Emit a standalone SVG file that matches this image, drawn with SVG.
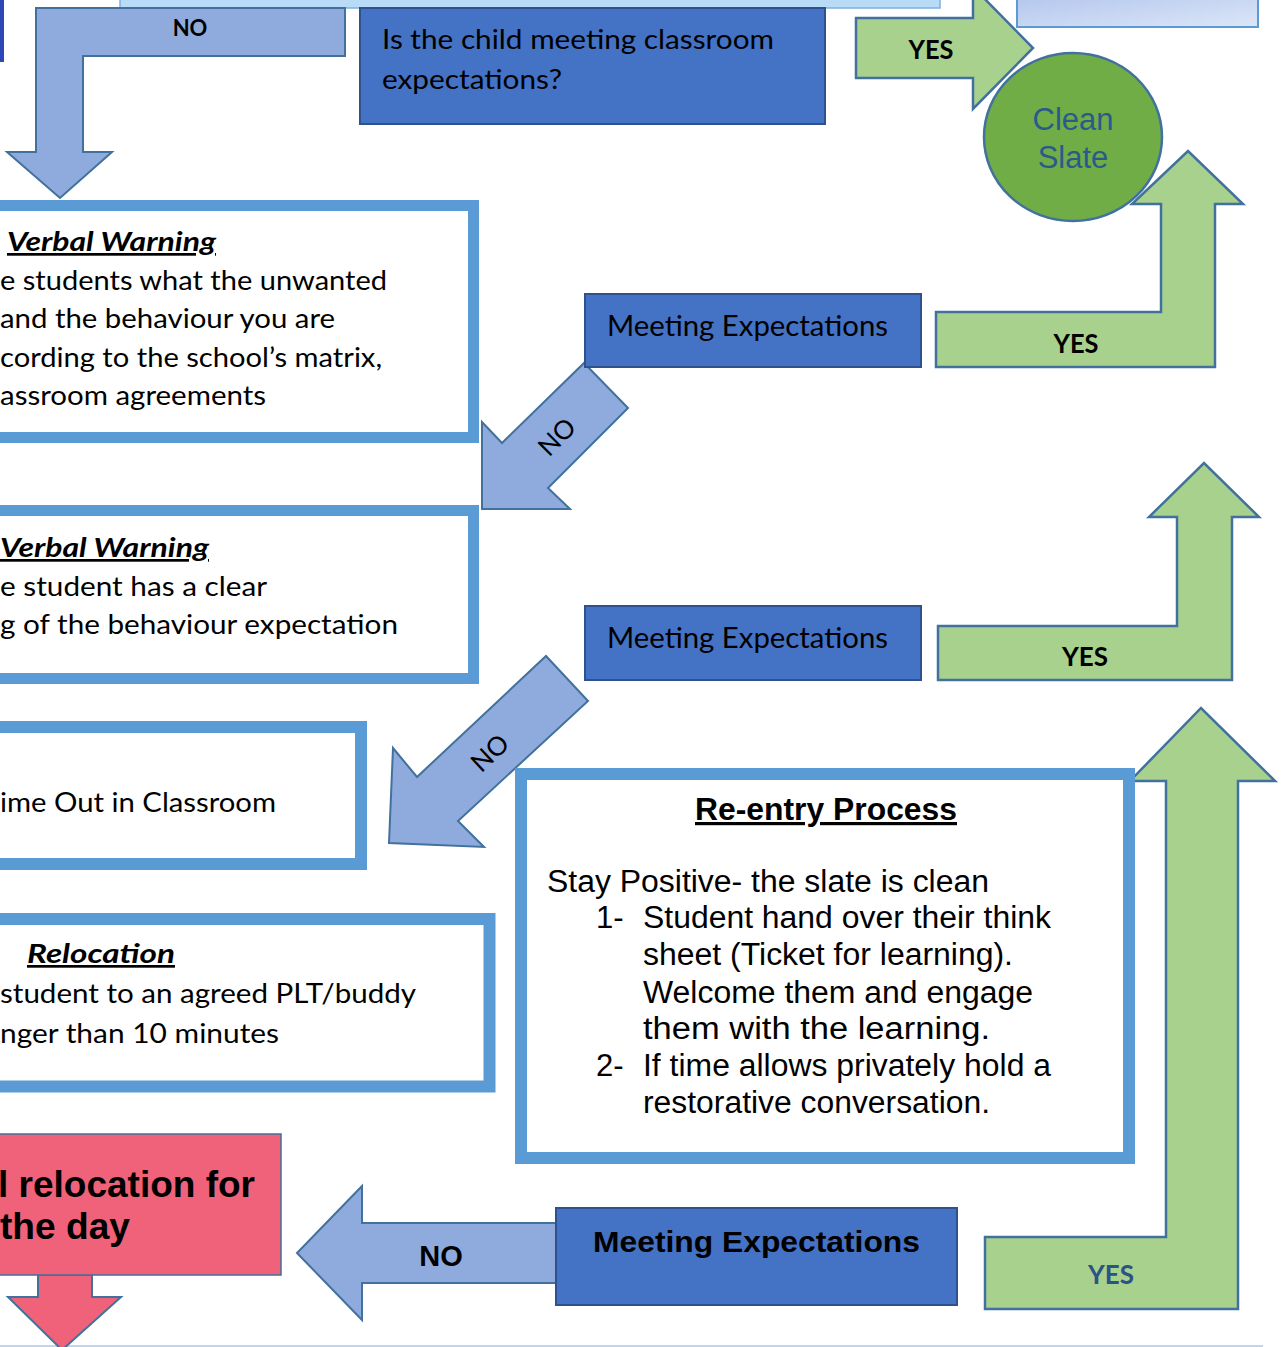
<svg xmlns="http://www.w3.org/2000/svg" width="1282" height="1347" viewBox="0 0 1282 1347">
<defs>
<linearGradient id="gTR" x1="0" y1="0" x2="1" y2="1">
<stop offset="0" stop-color="#b3c6ee"/>
<stop offset="1" stop-color="#dce6f7"/>
</linearGradient>
</defs>
<style>
.frame{fill:#ffffff;stroke:#5b9bd5}
.dark{fill:#4472c4;stroke:#2f528f;stroke-width:2}
.noA{fill:#8faadc;stroke:#41719c;stroke-width:2;stroke-linejoin:miter}
.yesA{fill:#a9d18e;stroke:#41719c;stroke-width:2.5;stroke-linejoin:miter}
.cal{font-family:Lato,"Open Sans","DejaVu Sans",sans-serif;fill:#000}
.ar{font-family:"Liberation Sans",Arial,sans-serif;fill:#000}
.b{font-weight:bold}
.bi{font-weight:bold;font-style:italic;text-decoration:underline}
</style>
<rect x="0" y="0" width="1282" height="1347" fill="#ffffff"/>
<line x1="0" y1="1346" x2="1263" y2="1346" stroke="#bdd7ee" stroke-width="2"/>

<g id="top-strip">
<rect x="0" y="-4" width="4" height="66" fill="#2b47b8"/>
<rect x="120" y="-4" width="820" height="12" fill="#b8dcf8" stroke="#7fb0de" stroke-width="1.5"/>
</g>
<g id="top-right-box">
<rect x="1017" y="-4" width="241" height="31" fill="url(#gTR)" stroke="#5b9bd5" stroke-width="2"/>
</g>

<g id="connectors">
<path id="no-top" class="noA" d="M36,8 L345,8 L345,56 L83,56 L83,152 L112,152 L60,198 L7,152 L36,152 Z"/>
<text class="cal b" x="190" y="36" font-size="22" text-anchor="middle">NO</text>

<path id="yes-top" class="yesA" stroke="#2f528f" d="M856,18 L973,18 L973,-13 L1033,48 L973,109 L973,78 L856,78 Z"/>
<text class="cal b" x="931" y="59" font-size="27" text-anchor="middle" textLength="45" lengthAdjust="spacingAndGlyphs">YES</text>

<path id="no-diag-1" class="noA" d="M584,363 L628,408 L548,488 L570,509 L482,509 L482,422 L502,443 Z"/>
<text class="cal" x="557" y="446" font-size="26" text-anchor="middle" transform="rotate(-45 557 437)">NO</text>

<path id="yes-bent-1" class="yesA" d="M936,312 L1161,312 L1161,204 L1132,204 L1188,151 L1243,204 L1215,204 L1215,367 L936,367 Z"/>
<text class="cal b" x="1076" y="353" font-size="27" text-anchor="middle" textLength="45" lengthAdjust="spacingAndGlyphs">YES</text>

<path id="no-diag-2" class="noA" d="M546,656 L588,701 L458,821 L484,847 L389,843 L393,748 L417,777 Z"/>
<text class="cal" x="490" y="762" font-size="26" text-anchor="middle" transform="rotate(-43 490 753)">NO</text>

<path id="yes-bent-2" class="yesA" d="M938,626 L1177,626 L1177,517 L1149,517 L1204,463 L1259,517 L1232,517 L1232,680 L938,680 Z"/>
<text class="cal b" x="1085" y="666" font-size="27" text-anchor="middle" textLength="46" lengthAdjust="spacingAndGlyphs">YES</text>

<path id="yes-big" class="yesA" d="M985,1237 L1166,1237 L1166,781 L1130,781 L1201,708 L1275,781 L1238,781 L1238,1309 L985,1309 Z"/>
<text class="cal b" x="1111" y="1284" font-size="27" text-anchor="middle" style="fill:#2a5386" textLength="46" lengthAdjust="spacingAndGlyphs">YES</text>

<path id="no-left" class="noA" d="M556,1223 L362,1223 L362,1186 L297,1253 L362,1320 L362,1283 L556,1283 Z"/>
<text class="ar b" x="441" y="1266" font-size="29" text-anchor="middle">NO</text>

<path id="red-down" fill="#f06279" stroke="#41719c" stroke-width="2" d="M38,1275 L92,1275 L92,1297 L121,1297 L62,1350 L8,1297 L38,1297 Z"/>
</g>

<g id="question">
<rect class="dark" x="360" y="8" width="465" height="116"/>
<text class="cal" x="382" y="49" font-size="27" textLength="392" lengthAdjust="spacingAndGlyphs">Is the child meeting classroom</text>
<text class="cal" x="382" y="89" font-size="27" textLength="180" lengthAdjust="spacingAndGlyphs">expectations?</text>
</g>

<g id="clean-slate">
<ellipse cx="1073" cy="137" rx="89" ry="84" fill="#70ad47" stroke="#41719c" stroke-width="2.5"/>
<text class="ar" x="1073" y="130" font-size="31" text-anchor="middle" style="fill:#2b5a8a">Clean</text>
<text class="ar" x="1073" y="168" font-size="31" text-anchor="middle" style="fill:#2b5a8a">Slate</text>
</g>

<g id="verbal-warning-1">
<rect class="frame" x="-20" y="205.5" width="493.5" height="232" stroke-width="11"/>
<text class="cal bi" x="7" y="251" font-size="27" textLength="209" lengthAdjust="spacingAndGlyphs">Verbal Warning</text>
<text class="cal" x="0" y="290" font-size="27" textLength="387" lengthAdjust="spacingAndGlyphs">e students what the unwanted</text>
<text class="cal" x="0" y="328" font-size="27" textLength="335" lengthAdjust="spacingAndGlyphs">and the behaviour you are</text>
<text class="cal" x="0" y="367" font-size="27" textLength="382" lengthAdjust="spacingAndGlyphs">cording to the school’s matrix,</text>
<text class="cal" x="0" y="405" font-size="27" textLength="266" lengthAdjust="spacingAndGlyphs">assroom agreements</text>
</g>

<g id="meeting-1">
<rect class="dark" x="585" y="294" width="336" height="73"/>
<text class="cal" x="607" y="336" font-size="28" textLength="281" lengthAdjust="spacingAndGlyphs">Meeting Expectations</text>
</g>

<g id="verbal-warning-2">
<rect class="frame" x="-20" y="510.5" width="493.5" height="168" stroke-width="11"/>
<text class="cal bi" x="0" y="557" font-size="27" textLength="209" lengthAdjust="spacingAndGlyphs">Verbal Warning</text>
<text class="cal" x="0" y="596" font-size="27" textLength="267" lengthAdjust="spacingAndGlyphs">e student has a clear</text>
<text class="cal" x="0" y="634" font-size="27" textLength="398" lengthAdjust="spacingAndGlyphs">g of the behaviour expectation</text>
</g>

<g id="meeting-2">
<rect class="dark" x="585" y="606" width="336" height="74"/>
<text class="cal" x="607" y="648" font-size="28" textLength="281" lengthAdjust="spacingAndGlyphs">Meeting Expectations</text>
</g>

<g id="time-out">
<rect class="frame" x="-20" y="727" width="381" height="137" stroke-width="12"/>
<text class="cal" x="0" y="812" font-size="27" textLength="276" lengthAdjust="spacingAndGlyphs">ime Out in Classroom</text>
</g>

<g id="relocation">
<rect class="frame" x="-20" y="919" width="509.5" height="167.5" stroke-width="12"/>
<text class="cal bi" x="27" y="963" font-size="27" textLength="148" lengthAdjust="spacingAndGlyphs"> Relocation</text>
<text class="cal" x="0" y="1003" font-size="27" textLength="416" lengthAdjust="spacingAndGlyphs">student to an agreed PLT/buddy</text>
<text class="cal" x="0" y="1043" font-size="27" textLength="279" lengthAdjust="spacingAndGlyphs">nger than 10 minutes</text>
</g>

<g id="re-entry">
<rect class="frame" x="521" y="774" width="608" height="384" stroke-width="12"/>
<text class="ar b" x="695" y="820" font-size="32" textLength="262" lengthAdjust="spacingAndGlyphs" style="text-decoration:underline">Re-entry Process</text>
<text class="ar" x="547" y="892" font-size="31" textLength="442" lengthAdjust="spacingAndGlyphs">Stay Positive- the slate is clean</text>
<text class="ar" x="596" y="928" font-size="31">1-</text>
<text class="ar" x="643" y="928" font-size="31" textLength="408" lengthAdjust="spacingAndGlyphs">Student hand over their think</text>
<text class="ar" x="643" y="965" font-size="31" textLength="370" lengthAdjust="spacingAndGlyphs">sheet (Ticket for learning).</text>
<text class="ar" x="643" y="1003" font-size="31" textLength="390" lengthAdjust="spacingAndGlyphs">Welcome them and engage</text>
<text class="ar" x="643" y="1039" font-size="31" textLength="347" lengthAdjust="spacingAndGlyphs">them with the learning.</text>
<text class="ar" x="596" y="1076" font-size="31">2-</text>
<text class="ar" x="643" y="1076" font-size="31" textLength="408" lengthAdjust="spacingAndGlyphs">If time allows privately hold a</text>
<text class="ar" x="643" y="1113" font-size="31" textLength="347" lengthAdjust="spacingAndGlyphs">restorative conversation.</text>
</g>

<g id="meeting-3">
<rect class="dark" x="556" y="1208" width="401" height="97"/>
<text class="ar b" x="593" y="1252" font-size="30" textLength="327" lengthAdjust="spacingAndGlyphs">Meeting Expectations</text>
</g>

<g id="relocation-day">
<rect x="-20" y="1134" width="301" height="141" fill="#f06279" stroke="#41719c" stroke-width="1.5"/>
<text class="ar b" x="-2" y="1197" font-size="36" textLength="257" lengthAdjust="spacingAndGlyphs">l relocation for</text>
<text class="ar b" x="0" y="1239" font-size="36" textLength="130" lengthAdjust="spacingAndGlyphs">the day</text>
</g>
</svg>
